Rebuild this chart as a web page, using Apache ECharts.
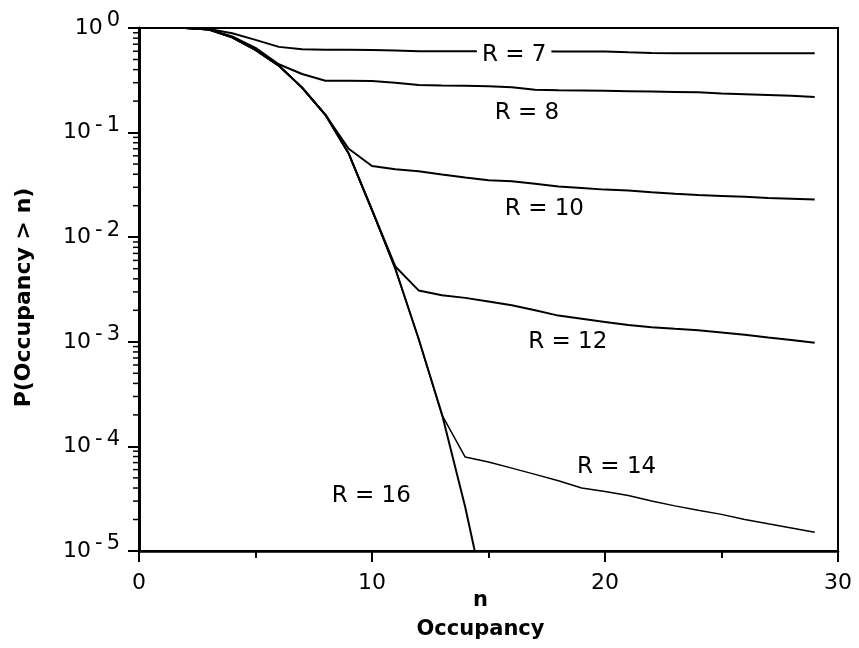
<!DOCTYPE html>
<html>
<head>
<meta charset="utf-8">
<script src="https://cdn.jsdelivr.net/npm/echarts@6/dist/echarts.min.js"></script>
<style>
  html, body { margin: 0; padding: 0; background: #fff; }
  #occupancy_chart { width: 859px; height: 648px; }
</style>
</head>
<body>
<div id="occupancy_chart"></div>
<script>
// occupancy n = 0..29
const occupancy = [0, 1, 2, 3, 4, 5, 6, 7, 8, 9, 10, 11, 12, 13, 14, 15, 16, 17, 18, 19, 20, 21, 22, 23, 24, 25, 26, 27, 28, 29]

// P(Occupancy > n)
const r7 = [1, 1, 1, 0.98, 0.89, 0.77, 0.66, 0.625, 0.62, 0.618, 0.615, 0.61, 0.6, 0.6, 0.6, 0.6, 0.598, 0.598, 0.597, 0.597, 0.596, 0.585, 0.576, 0.575, 0.575, 0.575, 0.575, 0.575, 0.575, 0.575]
const r8 = [1, 1, 1, 0.966, 0.83, 0.645, 0.45, 0.363, 0.313, 0.313, 0.312, 0.3, 0.285, 0.282, 0.28, 0.278, 0.272, 0.257, 0.254, 0.253, 0.251, 0.249, 0.247, 0.245, 0.243, 0.237, 0.233, 0.229, 0.225, 0.219]
const r10 = [1, 1, 1, 0.966, 0.813, 0.617, 0.437, 0.269, 0.148, 0.07, 0.048, 0.0447, 0.0427, 0.0398, 0.0372, 0.0351, 0.0343, 0.0324, 0.0305, 0.0295, 0.0285, 0.0279, 0.0269, 0.026, 0.0253, 0.0248, 0.0243, 0.0237, 0.0233, 0.0229]
const r12 = [1, 1, 1, 0.966, 0.813, 0.617, 0.437, 0.269, 0.148, 0.063, 0.0182, 0.00525, 0.0031, 0.00279, 0.00263, 0.00243, 0.00224, 0.002, 0.00178, 0.00166, 0.00155, 0.00145, 0.00138, 0.00133, 0.00129, 0.00123, 0.00117, 0.0011, 0.00104, 0.00098]
const r14 = [1, 1, 1, 0.966, 0.813, 0.617, 0.437, 0.269, 0.148, 0.063, 0.0182, 0.005, 0.00107, 0.0002, 0.000079, 0.000071, 0.000062, 0.000054, 0.000047, 0.00004, 0.000037, 0.000034, 0.00003, 0.000027, 0.0000245, 0.0000224, 0.00002, 0.0000182, 0.0000166, 0.0000151]
const r16 = [1, 1, 1, 0.966, 0.813, 0.617, 0.437, 0.269, 0.148, 0.063, 0.0182, 0.005, 0.00107, 0.000204, 0.0000263, 0.0000025]

const curveNames = ['R = 7', 'R = 8', 'R = 10', 'R = 12', 'R = 14', 'R = 16']
const curveValues = [r7, r8, r10, r12, r14, r16]
// where each curve's name is written, in data units [n, P]
const curveLabelAt = [[16.1, 0.556], [16.65, 0.155], [17.4, 0.0186], [18.4, 0.001], [20.5, 0.0000638], [9.97, 0.0000335]]

const xTicks = [0, 10, 20, 30]
const yTicks = [1, 0.1, 0.01, 0.001, 0.0001, 0.00001]

// minor ticks at 2..9 of every decade
const yMinor = []
for (let d = -5; d < 0; d++) {
  for (let k = 2; k <= 9; k++) yMinor.push(k * Math.pow(10, d))
}

const font = '"DejaVu Sans", sans-serif'

const chart = echarts.init(document.getElementById('occupancy_chart'))

const lineSeries = curveNames.map((name, i) => ({
  name: name,
  type: 'line',
  data: curveValues[i].map((v, j) => [occupancy[j], v]),
  symbol: 'none',
  clip: true,
  lineStyle: { color: '#000', width: i === 4 ? 1.5 : 2 },
  z: 3,
  markPoint: {
    symbol: 'rect',
    symbolSize: 0,
    silent: true,
    label: {
      show: true,
      position: 'inside',
      formatter: name,
      color: '#000',
      fontFamily: font,
      fontSize: 23,
      backgroundColor: i === 0 ? '#fff' : 'transparent',
      padding: [0, 5]
    },
    data: [{ coord: curveLabelAt[i] }]
  }
}))

chart.setOption({
  animation: false,
  backgroundColor: '#fff',
  grid: {
    left: 139,
    right: 21,
    top: 28,
    bottom: 97,
    outerBoundsMode: 'none',
    containLabel: false,
    show: true,
    borderColor: '#000',
    borderWidth: 2
  },
  xAxis: {
    type: 'value',
    min: 0,
    max: 30,
    interval: 10,
    name: 'n\nOccupancy',
    nameLocation: 'middle',
    nameGap: 35,
    nameMoveOverlap: false,
    nameTextStyle: {
      fontFamily: font,
      fontSize: 21,
      fontWeight: 'bold',
      color: '#000',
      lineHeight: 29,
      padding: [0, 16, 0, 0]
    },
    axisLine: { lineStyle: { color: '#000', width: 2.5 } },
    axisTick: { length: 11, lineStyle: { color: '#000', width: 2 } },
    minorTick: { show: true, splitNumber: 2, length: 7, lineStyle: { color: '#000', width: 2 } },
    splitLine: { show: false },
    axisLabel: {
      margin: 21,
      fontFamily: font,
      fontSize: 22,
      color: '#000',
      customValues: xTicks
    }
  },
  yAxis: {
    type: 'log',
    logBase: 10,
    min: 0.00001,
    max: 1,
    name: 'P(Occupancy > n)',
    nameLocation: 'middle',
    nameRotate: 90,
    nameGap: 104,
    nameMoveOverlap: false,
    nameTextStyle: {
      fontFamily: font,
      fontSize: 22,
      fontWeight: 'bold',
      color: '#000',
      padding: [0, 16, 0, 0]
    },
    axisLine: { lineStyle: { color: '#000', width: 3 } },
    axisTick: { length: 11, lineStyle: { color: '#000', width: 2 } },
    splitLine: { show: false },
    axisLabel: {
      margin: 19,
      color: '#000',
      formatter: function (v) {
        const e = Math.round(Math.log10(v))
        if (e < 0) return '{b|10}{m|-}{s|' + (-e) + '}'
        return '{b|10}{s|' + e + '}'
      },
      rich: {
        b: { fontFamily: font, fontSize: 22, color: '#000', padding: [0, 4, 0, 0] },
        m: { fontFamily: font, fontSize: 21, color: '#000', padding: [0, 4, 14, 0] },
        s: { fontFamily: font, fontSize: 21, color: '#000', padding: [0, 0, 14, 0] }
      }
    }
  },
  series: lineSeries.concat([{
    type: 'custom',
    silent: true,
    clip: false,
    data: yMinor.map(v => [0, v]),
    renderItem: function (params, api) {
      const p = api.coord([api.value(0), api.value(1)])
      return {
        type: 'line',
        shape: { x1: p[0] - 6, y1: p[1], x2: p[0], y2: p[1] },
        style: { stroke: '#000', lineWidth: 1.5 }
      }
    }
  }])
})
</script>
</body>
</html>
